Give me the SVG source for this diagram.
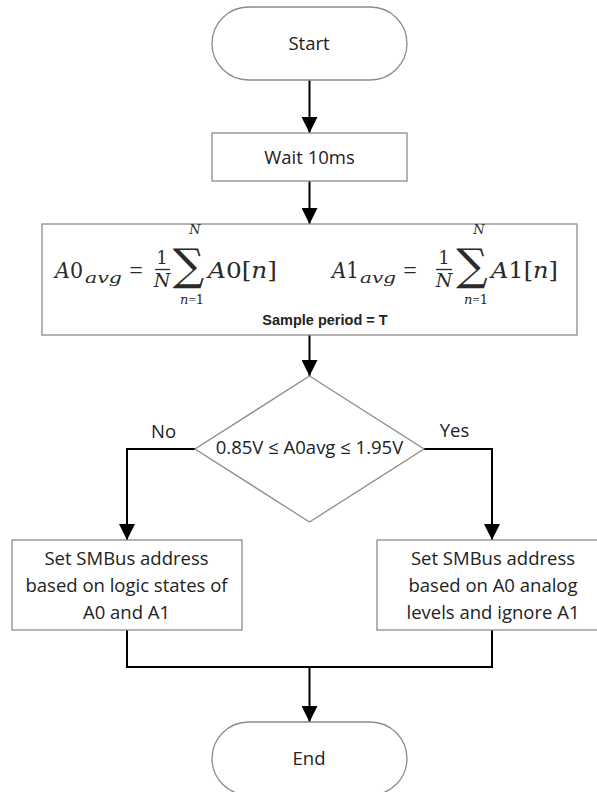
<svg xmlns="http://www.w3.org/2000/svg" width="597" height="792" viewBox="0 0 597 792">
<defs>
<marker id="arr" markerUnits="userSpaceOnUse" markerWidth="16" markerHeight="16" viewBox="0 0 16 16" refX="16" refY="8" orient="auto">
<path d="M0,0 L16,8 L0,16 Z" fill="#000"/>
</marker>
<style>
.shape{fill:#fff;stroke:#8c8c8c;stroke-width:1.3}
.conn{fill:none;stroke:#000;stroke-width:2}
.lbl{font-family:"Open Sans","Liberation Sans",sans-serif;font-size:18.5px;fill:#222;text-anchor:middle}
.m{font-family:"DejaVu Serif","Liberation Serif",serif;font-style:italic;fill:#2a2a2a}
.u{font-style:normal}
.eq{font-family:"Liberation Serif",serif;font-style:normal}
.sm{font-size:13px}
.cap{font-family:"Liberation Sans",Arial,sans-serif;font-weight:bold;font-size:14.5px;fill:#222;text-anchor:middle}
</style>
</defs>
<rect width="597" height="792" fill="#fff"/>
<g id="connectors">
<path class="conn" d="M309.5,80 V133" marker-end="url(#arr)"/>
<path class="conn" d="M309.5,181 V224" marker-end="url(#arr)"/>
<path class="conn" d="M309.5,335 V376" marker-end="url(#arr)"/>
<path class="conn" d="M195,449 H127 V540" marker-end="url(#arr)"/>
<path class="conn" d="M424,449 H492 V540" marker-end="url(#arr)"/>
<path class="conn" d="M127,630 V667 H492 V630"/>
<path class="conn" d="M309.5,667 V722" marker-end="url(#arr)"/>
</g>
<g id="start">
<rect class="shape" x="212" y="7" width="195" height="73" rx="36.5"/>
<text class="lbl" x="309" y="50">Start</text>
</g>
<g id="wait">
<rect class="shape" x="212" y="133" width="195" height="48"/>
<text class="lbl" x="309.5" y="164">Wait 10ms</text>
</g>
<g id="average">
<rect class="shape" x="42" y="224" width="535" height="111"/>
<g class="m">
<text x="55" y="278" font-size="22" textLength="28" lengthAdjust="spacingAndGlyphs">A<tspan class="u">0</tspan></text>
<text x="85" y="283" font-size="15.5" textLength="37" lengthAdjust="spacingAndGlyphs">avg</text>
<text x="136" y="278" font-size="24" class="eq" text-anchor="middle">=</text>
<text x="162" y="264" font-size="18" class="u" text-anchor="middle">1</text>
<line x1="155" y1="269.5" x2="170" y2="269.5" stroke="#2a2a2a" stroke-width="1.3"/>
<text x="162" y="287" font-size="19" text-anchor="middle">N</text>
<text x="188.5" y="280" font-size="44" class="u" text-anchor="middle">∑</text>
<text x="195" y="234" font-size="13" text-anchor="middle">N</text>
<text x="192" y="304" class="sm" text-anchor="middle">n<tspan class="eq">=</tspan><tspan class="u">1</tspan></text>
<text x="208" y="278" font-size="22" textLength="69" lengthAdjust="spacingAndGlyphs">A<tspan class="u">0[</tspan>n<tspan class="u">]</tspan></text>

<text x="332" y="278" font-size="22" textLength="27" lengthAdjust="spacingAndGlyphs">A<tspan class="u">1</tspan></text>
<text x="360" y="283" font-size="15.5" textLength="36" lengthAdjust="spacingAndGlyphs">avg</text>
<text x="410" y="278" font-size="24" class="eq" text-anchor="middle">=</text>
<text x="444" y="264" font-size="18" class="u" text-anchor="middle">1</text>
<line x1="436" y1="269.5" x2="452" y2="269.5" stroke="#2a2a2a" stroke-width="1.3"/>
<text x="444" y="287" font-size="19" text-anchor="middle">N</text>
<text x="472" y="280" font-size="44" class="u" text-anchor="middle">∑</text>
<text x="479" y="234" font-size="13" text-anchor="middle">N</text>
<text x="476" y="304" class="sm" text-anchor="middle">n<tspan class="eq">=</tspan><tspan class="u">1</tspan></text>
<text x="491" y="278" font-size="22" textLength="67" lengthAdjust="spacingAndGlyphs">A<tspan class="u">1[</tspan>n<tspan class="u">]</tspan></text>
</g>
<text class="cap" x="325" y="325">Sample period = T</text>
</g>
<g id="decision">
<polygon class="shape" points="309.5,376 424,449 309.5,522 195,449"/>
<text class="lbl" x="309.5" y="454" font-size="17.5">0.85V ≤ A0avg ≤ 1.95V</text>
</g>
<g id="label-no"><text class="lbl" x="163.5" y="438">No</text></g>
<g id="label-yes"><text class="lbl" x="454.5" y="437">Yes</text></g>
<g id="logic">
<rect class="shape" x="12" y="540" width="230" height="90"/>
<text class="lbl" x="126.5" y="565">Set SMBus address</text>
<text class="lbl" x="126.5" y="592">based on logic states of</text>
<text class="lbl" x="126.5" y="619">A0 and A1</text>
</g>
<g id="analog">
<rect class="shape" x="377" y="540" width="230" height="90"/>
<text class="lbl" x="493" y="565">Set SMBus address</text>
<text class="lbl" x="493" y="592">based on A0 analog</text>
<text class="lbl" x="493" y="619">levels and ignore A1</text>
</g>
<g id="end">
<rect class="shape" x="212" y="722" width="195" height="73" rx="36.5"/>
<text class="lbl" x="309" y="765">End</text>
</g>
</svg>
